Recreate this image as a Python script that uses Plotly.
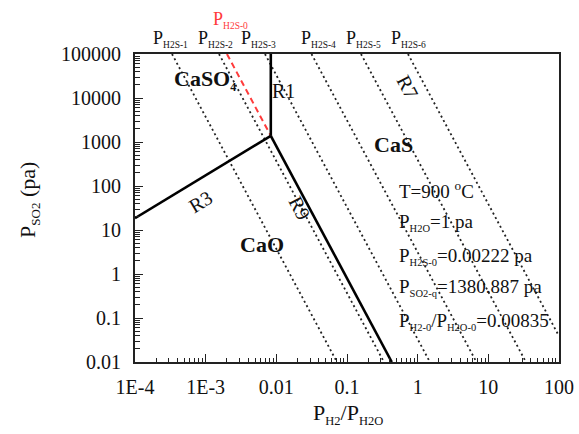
import plotly.graph_objects as go

# ---------------- data ----------------
# solid phase-boundary lines
r1_x = [0.00835, 0.00835]
r1_y = [1380.887, 100000]
r3_x = [1e-4, 0.00835]
r3_y = [18.5, 1380.887]
r9_x = [0.00835, 0.43]
r9_y = [1380.887, 0.01]

# red dashed iso-P_H2S line through the triple point
h2s0_x = [0.0020, 0.00835]
h2s0_y = [100000, 1380.887]

# dotted iso-P_H2S lines (start at top edge, end at bottom / right edge)
h2s_names = ["H2S-1", "H2S-2", "H2S-3", "H2S-4", "H2S-5", "H2S-6"]
h2s_x_start = [3.34e-4, 1.545e-3, 6.91e-3, 0.03145, 0.1578, 0.7295]
h2s_y_start = [100000, 100000, 100000, 100000, 100000, 100000]
h2s_x_end = [0.0720, 0.333, 1.489, 6.78, 34.0, 100]
h2s_y_end = [0.01, 0.01, 0.01, 0.01, 0.01, 0.0388]

# axis ticks
x_tickvals = [1e-4, 1e-3, 0.01, 0.1, 1, 10, 100]
x_ticktext = ["1E-4", "1E-3", "0.01", "0.1", "1", "10", "100"]
y_tickvals = [0.01, 0.1, 1, 10, 100, 1000, 10000, 100000]
y_ticktext = ["0.01", "0.1", "1", "10", "100", "1000", "10000", "100000"]

FONT = "Liberation Serif"
INK = "#111111"

fig = go.Figure()

for xs, ys, xe, ye in zip(h2s_x_start, h2s_y_start, h2s_x_end, h2s_y_end):
    fig.add_trace(go.Scatter(x=[xs, xe], y=[ys, ye], mode="lines",
                             line=dict(color="#222222", width=1.8, dash="2px,3px"),
                             hoverinfo="skip", showlegend=False))

fig.add_trace(go.Scatter(x=h2s0_x, y=h2s0_y, mode="lines",
                         line=dict(color="#ff3b3b", width=2, dash="6px,4px"),
                         showlegend=False))

for xs, ys in [(r1_x, r1_y), (r3_x, r3_y), (r9_x, r9_y)]:
    fig.add_trace(go.Scatter(x=xs, y=ys, mode="lines",
                             line=dict(color="#000000", width=2.6),
                             showlegend=False))

minor_x = [m * 10 ** e for e in range(-4, 2) for m in range(2, 10)]
minor_y = [m * 10 ** e for e in range(-2, 5) for m in range(2, 10)]

axis_common = dict(showgrid=False, zeroline=False, showline=True, linecolor="#222222",
                   linewidth=2, mirror=True, ticks="inside", ticklen=8, tickwidth=1.3,
                   tickcolor="#222222", tickmode="array", automargin=False,
                   tickfont=dict(family=FONT, size=20, color=INK))

fig.update_xaxes(type="log", range=[-4, 2], tickvals=x_tickvals, ticktext=x_ticktext,
                 ticklabelstandoff=6,
                 minor=dict(ticks="inside", ticklen=4.5, tickwidth=1.1, tickcolor="#222222",
                            tickmode="array", tickvals=minor_x, showgrid=False),
                 **axis_common)
fig.update_yaxes(type="log", range=[-2, 5], tickvals=y_tickvals, ticktext=y_ticktext,
                 ticklabelstandoff=8,
                 minor=dict(ticks="inside", ticklen=4.5, tickwidth=1.1, tickcolor="#222222",
                            tickmode="array", tickvals=minor_y, showgrid=False),
                 **axis_common)

ann = []

def A(text, x, y, size=19, bold=False, color=INK, angle=0, xanchor="center",
      yanchor="middle", xref="x", yref="y"):
    t = f"<b>{text}</b>" if bold else text
    ann.append(dict(text=t, x=x, y=y, xref=xref, yref=yref, showarrow=False,
                    font=dict(family=FONT, size=size, color=color), textangle=angle,
                    xanchor=xanchor, yanchor=yanchor, borderpad=0))

def S(t, px=10.5):
    return f'<sub><span style="font-size:{px}px">{t}</span></sub>'

# region and reaction labels (log10 data coordinates)
A("CaSO" + S("4", 12), -3.462, 4.42, size=22, bold=True, xanchor="left")
A("R1", -1.892, 4.15, size=20)
A("R7", -0.14, 4.25, size=20, angle=62)
A("CaS", -0.335, 2.932, size=22, bold=True)
A("R3", -3.08, 1.636, size=20, angle=-31)
A("R9", -1.67, 1.50, size=20, angle=62)
A("CaO", -2.203, 0.67, size=22, bold=True)

# condition block
A("T=900 <sup>o</sup>C", -0.278, 1.91, xanchor="left")
A("P" + S("H2O") + "=1 pa", -0.278, 1.18, xanchor="left")
A("P" + S("H2S-0") + "=0.00222 pa", -0.278, 0.40, xanchor="left")
A("P" + S("SO2-q") + "=1380.887 pa", -0.278, -0.31, xanchor="left")
A("P" + S("H2-0") + "/P" + S("H2O-0") + "=0.00835", -0.278, -1.07, xanchor="left")

# iso-line labels above the frame
top_left_px = [152, 197, 240, 300, 345, 390]
for name, px in zip(h2s_names, top_left_px):
    A("P" + S(name, 9.5), (px - 135) / 424, 1.05, size=18, xanchor="left",
      xref="paper", yref="paper")
A("P" + S("H2S-0", 9.5), (212 - 135) / 424, 1.11, size=18, color="#ff3b3b",
  xanchor="left", xref="paper", yref="paper")

# axis titles
A("P" + S("SO2", 13) + " (pa)", -0.25, 0.526, size=22, angle=-90,
  xref="paper", yref="paper")
A("P" + S("H2", 12.5) + "/P" + S("H2O", 12.5), 0.502, -0.17, size=22,
  xref="paper", yref="paper")

fig.update_layout(width=579, height=434, margin=dict(l=135, r=20, t=54, b=72),
                  paper_bgcolor="white", plot_bgcolor="white", annotations=ann,
                  font=dict(family=FONT, color=INK), showlegend=False)

fig.write_html("out.html", config={"displayModeBar": False},
               post_script="document.body.style.margin='0px';")
